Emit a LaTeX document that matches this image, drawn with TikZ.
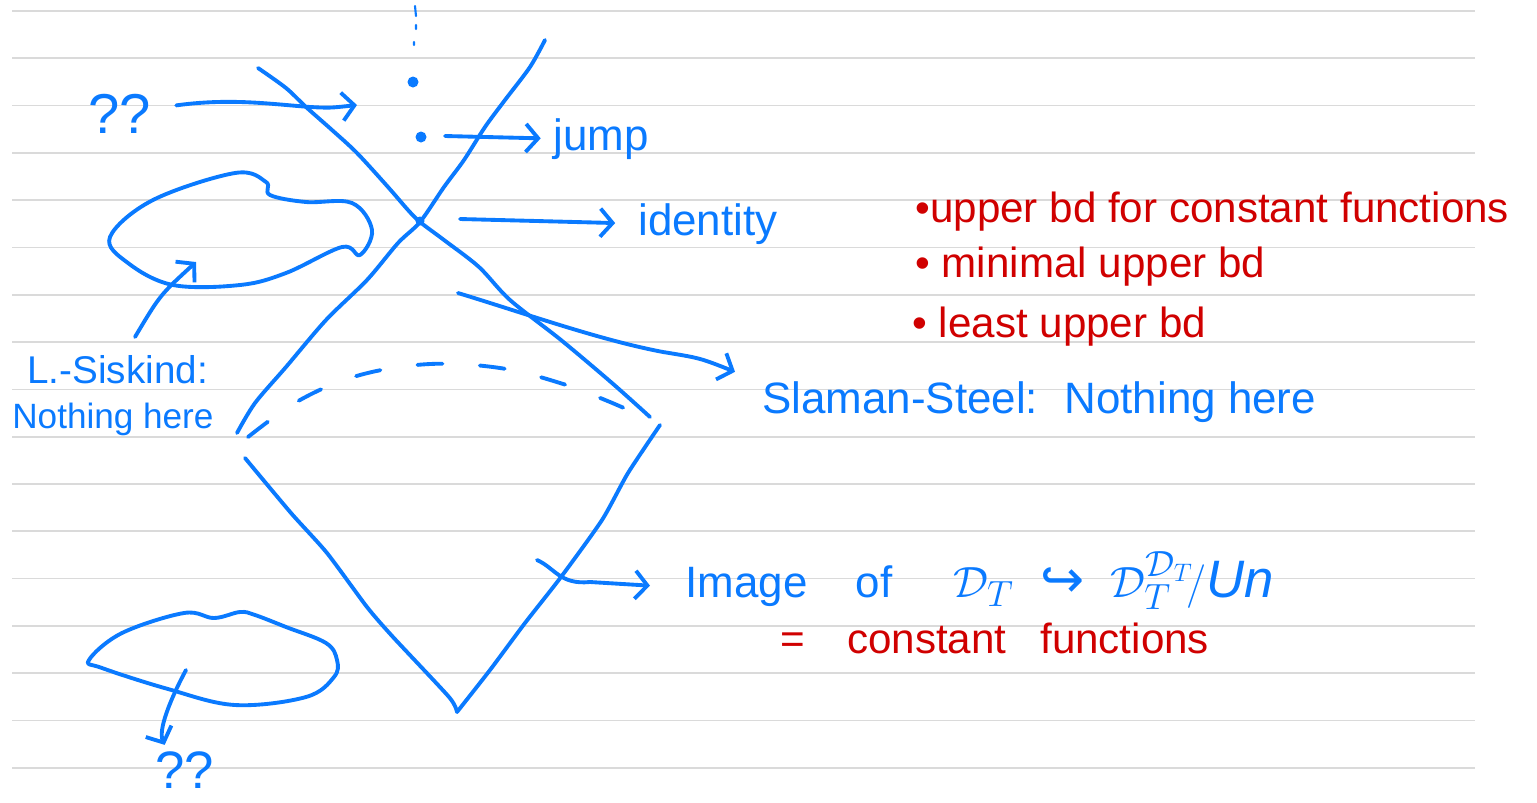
\documentclass[tikz,border=0pt]{standalone}
\usepackage{fontspec}
\setmainfont{Liberation Sans}
\newfontfamily\symfont{DejaVu Sans}
\usetikzlibrary{arrows.meta}

\definecolor{penblue}{RGB}{10,122,255}
\definecolor{penred}{RGB}{208,0,0}
\definecolor{rulegray}{RGB}{218,218,218}

\tikzset{
  pen/.style={draw=penblue, line width=2.2pt, line cap=round, line join=round},
  penarrow/.style={pen, -{Straight Barb[length=7pt,width=16pt]}},
  pendot/.style={circle, fill=penblue, inner sep=0pt, minimum size=#1},
  bluenote/.style={text=penblue, inner sep=0pt, anchor=base west,
                   font=\fontsize{25}{30}\selectfont},
  rednote/.style={bluenote, text=penred, font=\fontsize{24}{29}\selectfont},
}

\begin{document}
\begin{tikzpicture}[x=0.02cm, y=-0.02cm]
    \useasboundingbox[fill=white] (0,0) rectangle (1537,802);

    % ruled paper
    \foreach \k in {0,...,16}
        \draw[rulegray, line width=1pt] (12,{11+47.3*\k}) -- (1475,{11+47.3*\k});

    % the two crossing lines
    \draw[pen] plot[smooth, tension=0.5] coordinates {(258,68) (286,88) (306,107)
        (332,130) (357,153) (388,187) (408,210) (420,222) (444,240) (479,267)
        (510,300) (561,340) (612,383) (650,417)};
    \draw[pen] plot[smooth, tension=0.5] coordinates {(545,40) (530,67) (505,100)
        (485,127) (464,160) (444,187) (420,222) (398,243) (367,280) (326,320)
        (286,367) (255,403) (237,433)};

    % dashed arc
    \draw[pen, dash pattern=on 0.5cm off 0.75cm] plot[smooth, tension=0.6]
        coordinates {(248,437) (300,400) (360,375) (430,364) (500,368)
        (560,383) (610,402) (650,420)};

    % lower V
    \draw[pen] plot[smooth, tension=0.4] coordinates {(245,458) (291,513)
        (327,553) (367,607) (393,637) (449,697) (457,712)};
    \draw[pen] plot[smooth, tension=0.4] coordinates {(457,712) (490,670)
        (525,623) (561,577) (602,520) (628,473) (660,425)};

    % dots
    \draw[penblue, line width=1.2pt, line cap=round] (415,6) -- (416,16)
        (416,25) -- (416,29) (414,42) -- (414,45);
    \node[pendot=0.22cm] (dot1) at (413,82) {};
    \node[pendot=0.22cm] (dot2) at (421,137) {};
    \node[pendot=0.18cm] (cross) at (420,221) {};

    % blobs
    \draw[pen] plot[smooth cycle, tension=0.6] coordinates {(110,237) (153,200)
        (235,173) (266,182) (270,195) (306,202) (352,203) (372,230) (360,255)
        (342,247) (286,273) (240,285) (173,285) (128,263)};
    \draw[pen] plot[smooth cycle, tension=0.6] coordinates {(240,612) (214,618)
        (184,613) (122,633) (89,660) (102,668) (168,689) (235,705) (306,697)
        (334,677) (337,660) (326,643) (286,627) (255,615)};

    % labels
    \node[bluenote, font=\fontsize{32}{36}\selectfont] (qtop) at (88,133) {??};
    \node[bluenote, font=\fontsize{30}{34}\selectfont] (qbot) at (155,788) {??};
    \node[bluenote] (jumptxt) at (553,150) {jump};
    \node[bluenote] (idtxt) at (638,235) {identity};
    \node[bluenote] (sstxt) at (762,413) {Slaman-Steel:\hspace{0.6em}Nothing here};
    \node[bluenote, font=\fontsize{22}{26}\selectfont] (lstxt) at (27,383) {L.-Siskind:};
    \node[bluenote, font=\fontsize{20}{24}\selectfont] (nhtxt) at (12,428) {Nothing here};
    \node[bluenote] (imgtxt) at (685,597) {Image\hspace{1.1em}of};
    \node[bluenote, font=\fontsize{30}{34}\selectfont] (maptxt) at (953,597)
        {$\mathcal{D}_T$\enspace{\symfont ↪}\enspace$\mathcal{D}_T^{\mathcal{D}_T}\!/\mathit{Un}$};
    \node[rednote] (eqtxt) at (780,653) {=\hspace{1em}constant\hspace{0.8em}functions};
    \node[rednote] (ub1) at (915,222) {•upper bd for constant functions};
    \node[rednote] (ub2) at (915,277) {• minimal upper bd};
    \node[rednote] (ub3) at (912,337) {• least upper bd};

    % arrows
    \coordinate (qtip) at (357,105);
    \coordinate (jumpfrom) at (445,136);
    \coordinate (idfrom) at (460,219);
    \coordinate (ssfrom) at (458,293);
    \coordinate (lsfrom) at (135,337);
    \coordinate (blobin) at (196,262);
    \coordinate (imgfrom) at (537,560);
    \coordinate (lowfrom) at (186,670);
    \draw[penarrow] ([shift={(25,-8)}]qtop.east) .. controls (230,98) and (270,104)
        .. (310,107) .. controls (330,108) .. (qtip);
    \draw[penarrow, shorten >=7pt] (jumpfrom) -- (jumptxt.west);
    \draw[penarrow, shorten >=13pt] (idfrom) -- (idtxt.west);
    \draw[penarrow] (ssfrom) .. controls (530,315) and (600,340)
        .. (663,352) .. controls (700,358) .. ([shift={(-27,-9)}]sstxt.north west);
    \draw[penarrow] (lsfrom) .. controls (160,295) .. (blobin);
    \draw[penarrow] (imgfrom) .. controls (555,568) and (560,585)
        .. (590,582) -- ([shift={(-35,0)}]imgtxt.west);
    \draw[penarrow] (lowfrom) .. controls (170,700) and (158,730)
        .. ([shift={(-20,-6)}]qbot.north);
\end{tikzpicture}
\end{document}
